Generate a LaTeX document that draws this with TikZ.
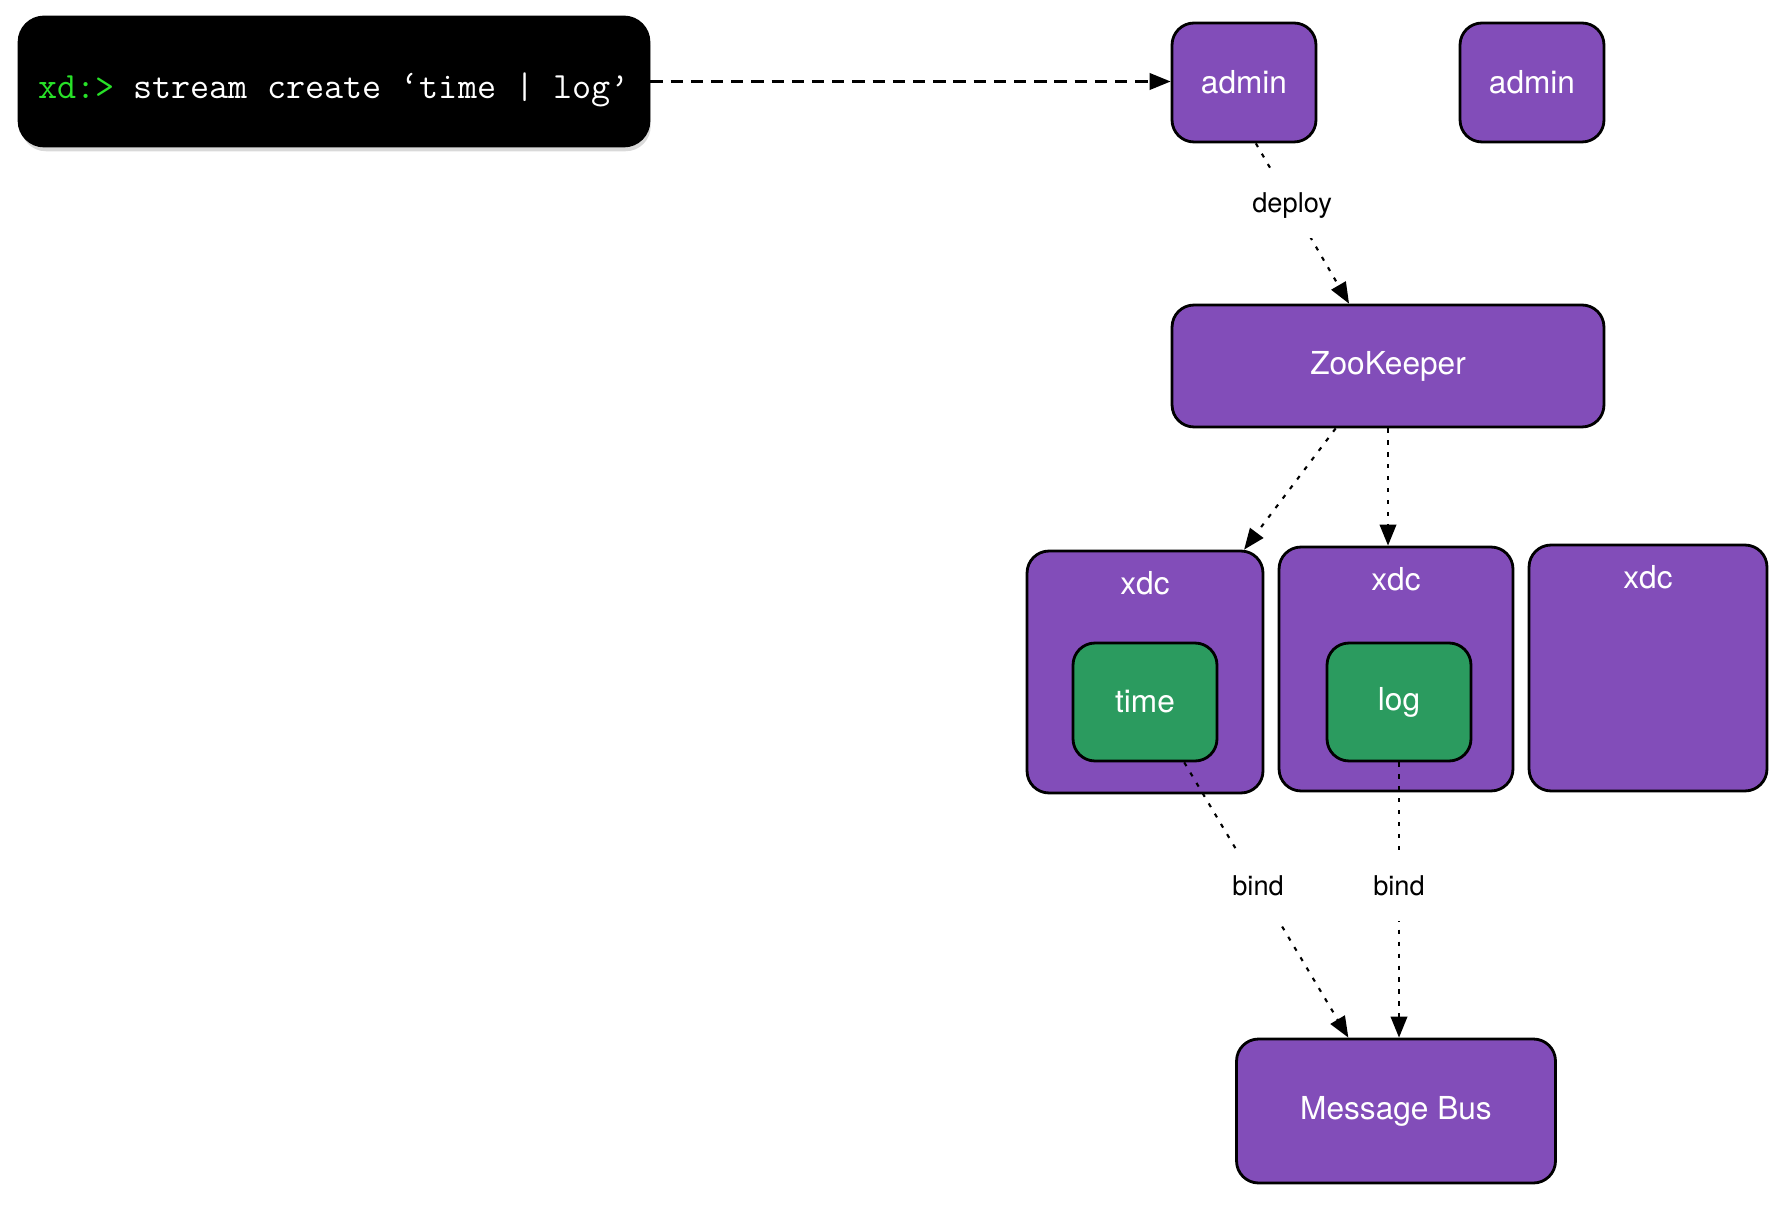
\documentclass[tikz,border=0pt]{standalone}
\usepackage{fontspec}
\setmainfont{TeX Gyre Heros}
\usetikzlibrary{arrows.meta,shadows}
\definecolor{xdpurple}{RGB}{130,77,185}
\definecolor{xdgreen}{RGB}{43,155,95}
\definecolor{xdprompt}{RGB}{40,225,40}
\tikzset{
	boxtext/.style={text=white, font=\fontsize{18}{22}\selectfont},
	box/.style={boxtext, draw=black, line width=1.6pt, rounded corners=0.44cm, fill=xdpurple},
	module/.style={box, fill=xdgreen},
	tag/.style={fill=white, font=\fontsize{15.5}{18}\selectfont, inner xsep=2pt, minimum height=1.3cm},
	tip/.style={-{Triangle[length=0.42cm,width=0.33cm]}},
	flow/.style={tip, line width=1.2pt, dash pattern=on 2.4pt off 4.4pt},
}
\begin{document}
\begin{tikzpicture}[x=0.02cm, y=-0.02cm, line join=round]
	\useasboundingbox (0,0) rectangle (1784,1212);
	% terminal
	\node[box, fill=black, rounded corners=0.5cm, minimum width=12.6cm, minimum height=2.58cm,
		text height=18.8pt, text depth=0pt,
		drop shadow={shadow xshift=1pt, shadow yshift=-3pt, opacity=0.3}] (term) at (334,81.5)
		{\fontsize{21.1}{25}\ttfamily{\color{xdprompt}xd:>} stream create ‘time | log’\hspace{0.55cm}};
	\foreach \n/\x in {admin1/1244, admin2/1532}
		\node[box, minimum width=2.88cm, minimum height=2.38cm] (\n) at (\x,82.5) {admin};
	\node[box, minimum width=8.64cm, minimum height=2.44cm] (zk) at (1388,366) {ZooKeeper};
	\foreach \n/\x/\y/\w/\h in {xdc1/1145/672/4.72/4.84, xdc2/1396/669/4.68/4.88, xdc3/1648/668/4.76/4.92}
		\node[box, minimum width=\w cm, minimum height=\h cm,
			label={[boxtext, anchor=center, yshift=-0.67cm]90:xdc}] (\n) at (\x,\y) {};
	\foreach \n/\x/\t in {time/1145/time, log/1399/log}
		\node[module, minimum width=2.88cm, minimum height=2.36cm] (\n) at (\x,702) {\t};
	\node[box, minimum width=6.38cm, minimum height=2.88cm] (bus) at (1396,1111) {Message Bus};
	% connectors
	\draw[tip, line width=1.3pt, dash pattern=on 7pt off 4.5pt]
		(term.east) -- (term.east -| admin1.west);
	\draw[flow] (admin1.-79.5) -- node[tag, pos=0.39]{deploy} (zk.122);
	\draw[flow] (zk.230.4) -- (xdc1.51.8);
	\draw[flow] (zk.south) -- (zk.south |- xdc2.north);
	\draw[flow] (time.-57.7) -- node[tag, pos=0.45, minimum height=1.45cm]{bind} (bus.123.7);
	\draw[flow] (log.south) -- node[tag, pos=0.45, minimum height=1.4cm]{bind} (log.south |- bus.north);
\end{tikzpicture}
\end{document}
